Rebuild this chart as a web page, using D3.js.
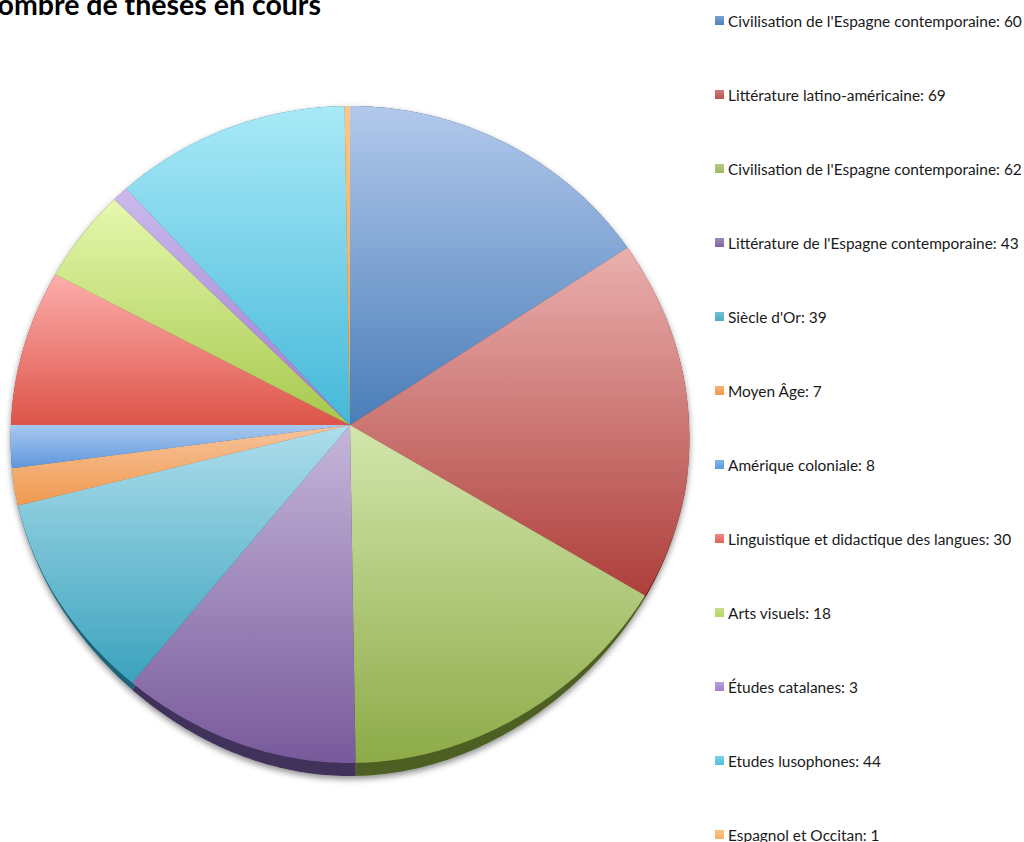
<!DOCTYPE html>
<html><head><meta charset="utf-8">
<script src="https://cdn.jsdelivr.net/npm/d3@7/dist/d3.min.js"></script>
<style>html,body{margin:0;padding:0;background:#fff;overflow:hidden}svg{display:block}text{font-family:Lato,"Open Sans",sans-serif;fill:#1a1a1a}</style>
</head><body><svg id="c" width="1024" height="842"></svg>
<script>
const titleText = "Nombre de thèses en cours";
const categories = ["Civilisation de l'Espagne contemporaine","Littérature latino-américaine","Civilisation de l'Espagne contemporaine","Littérature de l'Espagne contemporaine","Siècle d'Or","Moyen Âge","Amérique coloniale","Linguistique et didactique des langues","Arts visuels","Études catalanes","Etudes lusophones","Espagnol et Occitan"];
const values = [60,69,62,43,39,7,8,30,18,3,44,1];
const lightColors = ["#b2c9ec","#eab0ae","#d3e6ad","#c6b6da","#aedeec","#f6c49c","#a9c9f0","#fdaeac","#e6f8ae","#ccbaec","#a8e9f7","#fbc888"];
const darkColors = ["#4a7db8","#ae3f3b","#8dab48","#785a9b","#3ba2bd","#f09a50","#5e96dc","#dd5449","#a6c84c","#9b7dd0","#45b8d9","#f3a040"];
const legendColors = ["#4f81bd","#c0504d","#9bbb59","#8064a2","#4bacc6","#f79646","#5b9be0","#e8605a","#b5d65c","#a080d0","#4fc0e0","#f8b060"];
const rimColors = ["#2a4a70","#6f2421","#4d5f24","#40305a","#1c6478","#a06020","#2a5a90","#8a3028","#607a20","#5a4088","#207890","#a06820"];

const svg = d3.select("#c");
const cx = 350, cy = 425, ryTop = 319, ryBottom = 331, bulge = 7, rimDepth = 13;
const rxByHeight = d3.scaleLinear().domain([-1,-0.5,-0.2,0,0.47,1]).range([343,344,342,339,334,332]);
const pie = d3.pie().sort(null).value(d => d)(values);

const defs = svg.append("defs");
const f = defs.append("filter").attr("id","sh").attr("x","-5%").attr("y","-5%").attr("width","110%").attr("height","110%");
f.append("feDropShadow").attr("dx",0).attr("dy",3).attr("stdDeviation",3).attr("flood-color","#000").attr("flood-opacity",0.45);
const gradient = (id, a, b) => {
  const g = defs.append("linearGradient").attr("id",id).attr("x1",0).attr("y1",0).attr("x2",0).attr("y2",1);
  g.append("stop").attr("offset",0).attr("stop-color",a);
  g.append("stop").attr("offset",1).attr("stop-color",b);
};
pie.forEach((p,i)=>{
  gradient("g"+i, lightColors[i], darkColors[i]);
  gradient("m"+i, d3.interpolateRgb(legendColors[i],"#fff")(0.25), legendColors[i]);
});

const project = (a, depth=0) => {
  const c = Math.cos(a);          // height above the centre, -1..1
  const below = Math.max(0,-c);
  const dy = c>0 ? -c*ryTop : below*(ryBottom + bulge*below**4) + depth*below**2.5;
  return [cx + rxByHeight(c)*Math.sin(a), cy + dy];
};
const line = d3.line();
const slicePath = (p, depth=0) => {
  const n = Math.max(2, Math.ceil((p.endAngle-p.startAngle)*80));
  const angles = d3.range(n+1).map(k => d3.interpolateNumber(p.startAngle,p.endAngle)(k/n));
  return line([[cx,cy], ...angles.map(a=>project(a,depth))]) + "Z";
};

svg.append("g").attr("filter","url(#sh)")
  .selectAll("path").data(pie).join("path")
  .attr("d",d=>slicePath(d,rimDepth)).attr("fill",(d,i)=>rimColors[i]);
svg.append("g").selectAll("path").data(pie).join("path")
  .attr("d",d=>slicePath(d)).attr("fill",(d,i)=>`url(#g${i})`);

svg.append("text").attr("x",-24).attr("y",15).attr("font-size",28.5).attr("font-weight",700).style("fill","#000").text(titleText);

const ly = d3.scaleLinear().domain([0,categories.length-1]).range([21,835]);
const lg = svg.append("g").selectAll("g").data(categories).join("g").attr("transform",(d,i)=>`translate(0,${ly(i)})`);
lg.append("rect").attr("x",715).attr("y",-5).attr("width",9).attr("height",9).attr("fill",(d,i)=>`url(#m${i})`);
lg.append("text").attr("x",728).attr("y",5.5).attr("font-size",15.45).text((d,i)=>`${d}: ${values[i]}`);
</script></body></html>
